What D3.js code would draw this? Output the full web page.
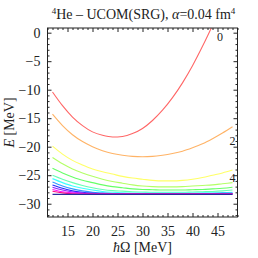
<!DOCTYPE html>
<html>
<head>
<meta charset="utf-8">
<script src="https://cdn.jsdelivr.net/npm/d3@7"></script>
<style>
  body { margin: 0; background: #fff; }
  svg text { font-family: "Liberation Serif", "Times New Roman", serif; fill: #222; }
</style>
</head>
<body>
<div id="chart"></div>
<script>
// hbar Omega grid (MeV)
const omega = [12, 14, 16, 18, 20, 22, 24, 26, 28, 30, 32, 34, 36, 38, 40, 42, 44, 46, 48];

// energies for each Nmax (MeV)
const e0  = [-10.4, -12.8, -14.8, -16.3, -17.4, -18.0, -18.3, -18.2, -17.7, -16.8, -15.4, -13.6, -11.4, -8.8, -5.8, -2.4, 1.3, 5.5, 10.0];
const e2  = [-14.3, -16.3, -17.9, -19.1, -20.0, -20.7, -21.2, -21.5, -21.7, -21.75, -21.7, -21.5, -21.2, -20.8, -20.2, -19.5, -18.6, -17.6, -16.5];
const e4  = [-19.9, -21.3, -22.4, -23.2, -23.9, -24.4, -24.8, -25.2, -25.5, -25.7, -25.9, -26.0, -26.0, -25.9, -25.7, -25.4, -25.0, -24.6, -24.1];
const e6  = [-21.9, -23.0, -23.9, -24.6, -25.2, -25.7, -26.1, -26.4, -26.7, -26.9, -27.0, -27.05, -27.05, -27.0, -26.9, -26.8, -26.7, -26.5, -26.3];
const e8  = [-23.8, -24.6, -25.3, -25.9, -26.3, -26.7, -27.0, -27.2, -27.4, -27.5, -27.55, -27.6, -27.6, -27.6, -27.55, -27.5, -27.4, -27.3, -27.1];
const e10 = [-25.0, -25.7, -26.3, -26.8, -27.2, -27.5, -27.7, -27.8, -27.9, -27.95, -28.0, -28.0, -28.0, -28.0, -27.95, -27.9, -27.85, -27.75, -27.6];
const e12 = [-25.6, -26.3, -26.9, -27.3, -27.6, -27.85, -28.0, -28.1, -28.15, -28.15, -28.15, -28.15, -28.15, -28.15, -28.15, -28.1, -28.1, -28.05, -28.0];
const e14 = [-26.2, -26.9, -27.4, -27.75, -28.0, -28.1, -28.2, -28.2, -28.2, -28.2, -28.2, -28.2, -28.2, -28.2, -28.2, -28.2, -28.2, -28.15, -28.15];
const e16 = [-26.7, -27.3, -27.75, -28.0, -28.15, -28.25, -28.25, -28.25, -28.25, -28.25, -28.25, -28.25, -28.25, -28.25, -28.25, -28.25, -28.25, -28.25, -28.25];
const e18 = [-27.1, -27.6, -27.95, -28.15, -28.25, -28.25, -28.25, -28.25, -28.25, -28.25, -28.25, -28.25, -28.25, -28.25, -28.25, -28.25, -28.25, -28.25, -28.25];
const e20 = [-27.5, -27.9, -28.1, -28.2, -28.3, -28.3, -28.3, -28.3, -28.3, -28.3, -28.3, -28.3, -28.3, -28.3, -28.3, -28.3, -28.3, -28.3, -28.3];
const e22 = [-27.8, -28.1, -28.25, -28.3, -28.3, -28.3, -28.3, -28.3, -28.3, -28.3, -28.3, -28.3, -28.3, -28.3, -28.3, -28.3, -28.3, -28.3, -28.3];
const series = [e0, e2, e4, e6, e8, e10, e12, e14, e16, e18, e20, e22];
const hues = [0, 30, 60, 90, 120, 150, 180, 210, 240, 270, 300, 330];

// converged value
const exactE = -28.35;

// ticks and curve labels
const xMajor = [15, 20, 25, 30, 35, 40, 45];
const yMajor = [0, -5, -10, -15, -20, -25, -30];
const curveLabels = [
  { text: "0", w: 45.5, e: -0.7 },
  { text: "2", w: 48.0, e: -18.9 },
  { text: "4", w: 48.0, e: -25.4 }
];

const W = 258, H = 258;
const mLeft = 47.5, mRight = 237.5, mTop = 28, mBottom = 217;

const svg = d3.select("#chart").append("svg")
    .attr("width", W).attr("height", H);

const x = d3.scaleLinear().domain([11, 49]).range([mLeft, mRight]);
const y = d3.scaleLinear().domain([-32.33, 0.82]).range([mBottom, mTop]);

// clip for the curves
svg.append("clipPath").attr("id", "clip")
  .append("rect")
    .attr("x", mLeft).attr("y", mTop)
    .attr("width", mRight - mLeft).attr("height", mBottom - mTop);

const line = d3.line()
    .x((d, i) => x(omega[i]))
    .y(d => y(d))
    .curve(d3.curveMonotoneX);

const plot = svg.append("g").attr("clip-path", "url(#clip)");

plot.selectAll(".curve")
  .data(series)
  .enter().append("path")
    .attr("class", "curve")
    .attr("d", line)
    .attr("fill", "none")
    .attr("stroke", (d, i) => d3.hsl(hues[i], 1, i < 6 ? 0.7 : 0.62 - (i - 6) * 0.02))
    .attr("stroke-width", 1.1);

plot.append("line")
    .attr("x1", x(omega[0])).attr("x2", x(omega[omega.length - 1]))
    .attr("y1", y(exactE)).attr("y2", y(exactE))
    .attr("stroke", "#2a2aa0")
    .attr("stroke-width", 1.3);

// curve labels
svg.selectAll(".clabel")
  .data(curveLabels)
  .enter().append("text")
    .attr("class", "clabel")
    .attr("x", d => x(d.w))
    .attr("y", d => y(d.e))
    .attr("dy", "0.35em")
    .attr("text-anchor", "middle")
    .style("font-size", "12px")
    .text(d => d.text);

// frame with inward ticks
const xMinor = d3.range(11, 50).filter(v => v % 5 !== 0);
const yMinor = d3.range(-32, 1).filter(v => v % 5 !== 0);

function frameAxis(axis, transform) {
  const g = svg.append("g").attr("transform", transform).call(axis);
  g.select(".domain").remove();
  g.selectAll("line").attr("stroke", "#222");
  return g;
}

const fmt = v => v < 0 ? "\u2212" + Math.abs(v) : String(v);

const xb = frameAxis(d3.axisBottom(x).tickValues(xMajor).tickSize(-4).tickPadding(9).tickFormat(fmt), `translate(0,${mBottom})`);
frameAxis(d3.axisBottom(x).tickValues(xMinor).tickSize(-2).tickFormat(""), `translate(0,${mBottom})`);
frameAxis(d3.axisTop(x).tickValues(xMajor).tickSize(-4).tickFormat(""), `translate(0,${mTop})`);
frameAxis(d3.axisTop(x).tickValues(xMinor).tickSize(-2).tickFormat(""), `translate(0,${mTop})`);
const yl = frameAxis(d3.axisLeft(y).tickValues(yMajor).tickSize(-4).tickPadding(7).tickFormat(fmt), `translate(${mLeft},0)`);
frameAxis(d3.axisLeft(y).tickValues(yMinor).tickSize(-2).tickFormat(""), `translate(${mLeft},0)`);
frameAxis(d3.axisRight(y).tickValues(yMajor).tickSize(-4).tickFormat(""), `translate(${mRight},0)`);
frameAxis(d3.axisRight(y).tickValues(yMinor).tickSize(-2).tickFormat(""), `translate(${mRight},0)`);

xb.selectAll("text").style("font-size", "14px").style("font-family", "Liberation Serif, serif").attr("fill", "#222");
yl.selectAll("text").style("font-size", "14px").style("font-family", "Liberation Serif, serif").attr("fill", "#222");

svg.append("rect")
    .attr("x", mLeft).attr("y", mTop)
    .attr("width", mRight - mLeft).attr("height", mBottom - mTop)
    .attr("fill", "none")
    .attr("stroke", "#222")
    .attr("stroke-width", 1);

// axis titles
svg.append("text")
    .attr("x", (mLeft + mRight) / 2)
    .attr("y", 252)
    .attr("text-anchor", "middle")
    .style("font-size", "14px")
    .html("<tspan font-style='italic'>\u0127</tspan>\u03a9 [MeV]");

svg.append("text")
    .attr("transform", `translate(14,${(mTop + mBottom) / 2}) rotate(-90)`)
    .attr("text-anchor", "middle")
    .style("font-size", "14px")
    .html("<tspan font-style='italic'>E</tspan> [MeV]");

// title
svg.append("text")
    .attr("x", (mLeft + mRight) / 2 + 1)
    .attr("y", 19)
    .attr("text-anchor", "middle")
    .style("font-size", "14px")
    .html("<tspan baseline-shift='super' font-size='9px'>4</tspan>He \u2013 UCOM(SRG), <tspan font-style='italic'>\u03b1</tspan>=0.04 fm<tspan baseline-shift='super' font-size='9px'>4</tspan>");
</script>
</body>
</html>
